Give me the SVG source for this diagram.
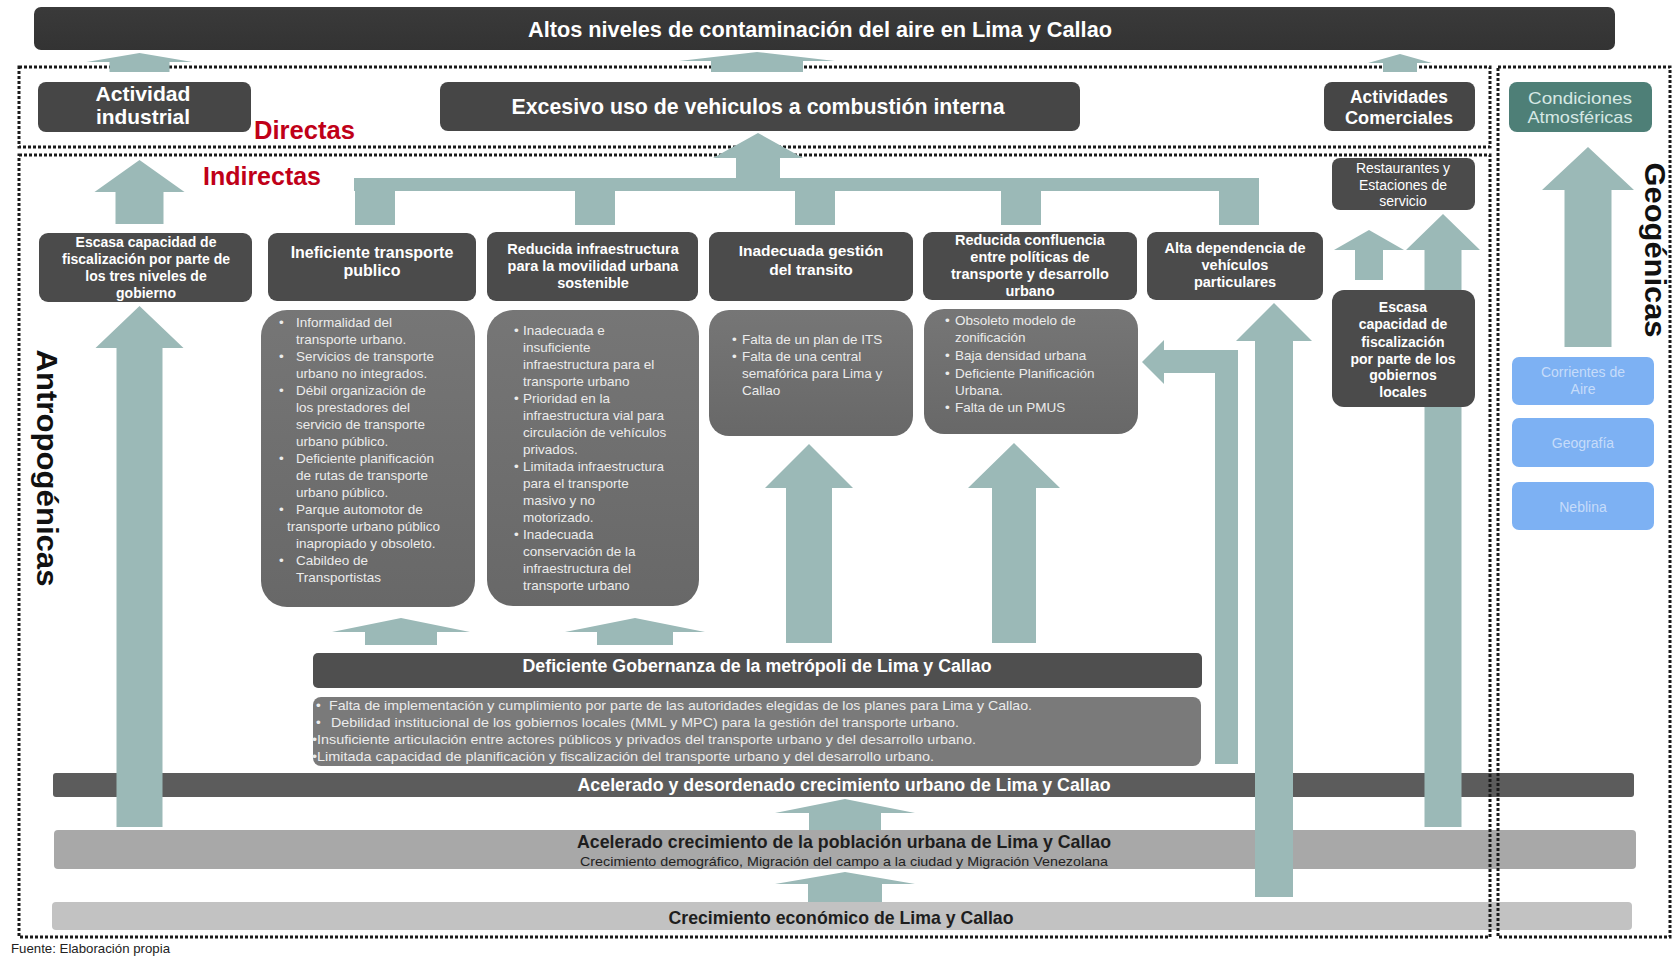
<svg xmlns="http://www.w3.org/2000/svg" width="1673" height="958" viewBox="0 0 1673 958">
<style>
.bx{fill:#464646}
.hd{fill:#4b4b4b}
.dt{fill:#6f6f6f}
.ar{fill:#9bb9b7}
.dot{fill:none;stroke:#1a1a1a;stroke-width:3;stroke-dasharray:3 2}
.w{fill:#ffffff;font-family:"Liberation Sans",Arial,sans-serif;font-weight:bold}
.wn{fill:#ffffff;font-family:"Liberation Sans Narrow","Liberation Sans",Arial,sans-serif;font-weight:bold}
.d{fill:#ececec;font-family:"Liberation Sans",Arial,sans-serif;font-size:13.5px}
.red{fill:#c00018;font-family:"Liberation Sans Narrow","Liberation Sans",Arial,sans-serif;font-weight:bold;font-size:25px}
.big{fill:#111111;font-family:"Liberation Sans",Arial,sans-serif;font-weight:bold;font-size:30px}
.blue{fill:#7db1f3}
.bt{fill:#c6dcfa;font-family:"Liberation Sans",Arial,sans-serif;font-size:14px}
</style>
<defs>
<linearGradient id="gTop" x1="0" y1="0" x2="0" y2="1"><stop offset="0" stop-color="#3a3a3a"/><stop offset="1" stop-color="#333333"/></linearGradient>
<linearGradient id="gDt" x1="0" y1="0" x2="0" y2="1"><stop offset="0" stop-color="#767676"/><stop offset="1" stop-color="#686868"/></linearGradient>
</defs>
<rect width="1673" height="958" fill="#ffffff"/>

<!-- bottom bars -->
<g id="acelerado-desordenado">
<rect x="53" y="773" width="1581" height="24" rx="3" fill="#5c5c5c"/>
<text class="wn" x="844" y="791" font-size="19" text-anchor="middle" textLength="533" lengthAdjust="spacingAndGlyphs">Acelerado y desordenado crecimiento urbano de Lima y Callao</text>
</g>
<g id="poblacion">
<rect x="54" y="830" width="1582" height="39" rx="4" fill="#a8a8a8"/>
<text x="844" y="848" font-size="19" text-anchor="middle" textLength="534" lengthAdjust="spacingAndGlyphs" fill="#1e1e1e" font-family="Liberation Sans Narrow, Liberation Sans, Arial, sans-serif" font-weight="bold">Acelerado crecimiento de la población urbana de Lima y Callao</text>
<text x="844" y="866" font-size="13.5" text-anchor="middle" textLength="528" lengthAdjust="spacingAndGlyphs" fill="#222222" font-family="Liberation Sans Narrow, Liberation Sans, Arial, sans-serif">Crecimiento demográfico, Migración del campo a la ciudad y Migración Venezolana</text>
</g>
<g id="economico">
<rect x="52" y="902" width="1580" height="28" rx="4" fill="#c2c2c2"/>
<text x="841" y="924" font-size="19" text-anchor="middle" textLength="345" lengthAdjust="spacingAndGlyphs" fill="#1e1e1e" font-family="Liberation Sans Narrow, Liberation Sans, Arial, sans-serif" font-weight="bold">Crecimiento económico de Lima y Callao</text>
</g>

<!-- dotted regions -->
<g id="regiones">
<rect class="dot" x="19" y="67" width="1471" height="80"/>
<rect class="dot" x="19" y="155" width="1471" height="782"/>
<rect class="dot" x="1498" y="67" width="172" height="870"/>
</g>

<!-- connectors -->
<g id="connectors">
<polygon class="ar" points="139.5,53 192.5,62 169.5,62 169.5,72 109.5,72 109.5,62 86.5,62"/>
<polygon class="ar" points="757,52 835,61 803,61 803,72 711,72 711,61 679,61"/>
<polygon class="ar" points="1400,54 1432,63 1417,63 1417,72 1383,72 1383,63 1368,63"/>
<polygon class="ar" points="758,133 803,158 780,158 780,180 736,180 736,158 713,158"/>
<rect class="ar" x="354" y="178" width="905" height="13"/>
<rect class="ar" x="355" y="178" width="40" height="47"/>
<rect class="ar" x="575" y="178" width="40" height="47"/>
<rect class="ar" x="795" y="178" width="40" height="47"/>
<rect class="ar" x="1001" y="178" width="40" height="47"/>
<rect class="ar" x="1219" y="178" width="40" height="47"/>
<polygon class="ar" points="139.5,160 184.5,192 163.5,192 163.5,224 115.5,224 115.5,192 94.5,192"/>
<polygon class="ar" points="139.5,306 183.5,348 162.5,348 162.5,827 116.5,827 116.5,348 95.5,348"/>
<polygon class="ar" points="809,444 853,488 832,488 832,643 786,643 786,488 765,488"/>
<polygon class="ar" points="1014,443 1060,488 1036,488 1036,643 992,643 992,488 968,488"/>
<polygon class="ar" points="401,618 470,632 437,632 437,645 365,645 365,632 332,632"/>
<polygon class="ar" points="635,618 705,632 673,632 673,645 597,645 597,632 565,632"/>
<polygon class="ar" points="845,799 915,813 881,813 881,830 809,830 809,813 775,813"/>
<polygon class="ar" points="845,872 915,884 882,884 882,902 808,902 808,884 775,884"/>
<polygon class="ar" points="1274,303 1312,341 1293,341 1293,897 1255,897 1255,341 1236,341"/>
<polygon class="ar" points="1142,362 1164,340 1164,350 1238,350 1238,764 1215,764 1215,373 1164,373 1164,384"/>
<polygon class="ar" points="1369,230 1404,250 1383,250 1383,280 1355,280 1355,250 1334,250"/>
<polygon class="ar" points="1443,214 1480,250 1461.5,250 1461.5,827 1424.5,827 1424.5,250 1406,250"/>
<polygon class="ar" points="1588,147 1634,190 1611.5,190 1611.5,347 1564.5,347 1564.5,190 1542,190"/>
</g>

<!-- top -->
<g id="titulo">
<rect x="34" y="7" width="1581" height="43" rx="7" fill="url(#gTop)"/>
<text class="wn" x="820" y="37" font-size="22" text-anchor="middle" textLength="584" lengthAdjust="spacingAndGlyphs">Altos niveles de contaminación del aire en Lima y Callao</text>
</g>

<g id="directas-label"><text class="red" x="254" y="139" textLength="101" lengthAdjust="spacingAndGlyphs">Directas</text></g>
<g id="indirectas-label"><text class="red" x="203" y="185" textLength="118" lengthAdjust="spacingAndGlyphs">Indirectas</text></g>

<g id="actividad-industrial">
<rect class="bx" x="38" y="82" width="213" height="50" rx="8"/>
<text class="wn" x="143" y="101" font-size="21" text-anchor="middle" textLength="95" lengthAdjust="spacingAndGlyphs">Actividad</text>
<text class="wn" x="143" y="124" font-size="21" text-anchor="middle" textLength="94" lengthAdjust="spacingAndGlyphs">industrial</text>
</g>
<g id="excesivo">
<rect class="bx" x="440" y="82" width="640" height="49" rx="8"/>
<text class="wn" x="758" y="114" font-size="22" text-anchor="middle" textLength="493" lengthAdjust="spacingAndGlyphs">Excesivo uso de vehiculos a combustión interna</text>
</g>
<g id="actividades-comerciales">
<rect class="bx" x="1324" y="82" width="151" height="49" rx="8"/>
<text class="wn" x="1399" y="103" font-size="18" text-anchor="middle" textLength="98" lengthAdjust="spacingAndGlyphs">Actividades</text>
<text class="wn" x="1399" y="124" font-size="18" text-anchor="middle" textLength="108" lengthAdjust="spacingAndGlyphs">Comerciales</text>
</g>
<g id="condiciones">
<rect x="1509" y="82" width="143" height="50" rx="8" fill="#4e7f77"/>
<text x="1580" y="104" font-size="17" text-anchor="middle" textLength="104" lengthAdjust="spacingAndGlyphs" fill="#d6e8e4" font-family="Liberation Sans Narrow, Liberation Sans, Arial, sans-serif">Condiciones</text>
<text x="1580" y="123" font-size="17" text-anchor="middle" textLength="105" lengthAdjust="spacingAndGlyphs" fill="#d6e8e4" font-family="Liberation Sans Narrow, Liberation Sans, Arial, sans-serif">Atmosféricas</text>
</g>

<!-- indirect header nodes -->
<g id="escasa-tres-niveles">
<rect class="hd" x="39" y="233" width="213" height="69" rx="9"/>
<text class="w" font-size="14" text-anchor="middle"><tspan x="146" y="247">Escasa capacidad de</tspan><tspan x="146" y="264">fiscalización por parte de</tspan><tspan x="146" y="281">los tres niveles de</tspan><tspan x="146" y="298">gobierno</tspan></text>
</g>
<g id="ineficiente-transporte">
<rect class="hd" x="268" y="233" width="208" height="68" rx="9"/>
<text class="w" font-size="16" text-anchor="middle"><tspan x="372" y="258">Ineficiente transporte</tspan><tspan x="372" y="276">publico</tspan></text>
</g>
<g id="reducida-infraestructura">
<rect class="hd" x="487" y="232" width="211" height="69" rx="9"/>
<text class="w" font-size="14.5" text-anchor="middle"><tspan x="593" y="254">Reducida infraestructura</tspan><tspan x="593" y="271">para la movilidad urbana</tspan><tspan x="593" y="288">sostenible</tspan></text>
</g>
<g id="inadecuada-gestion">
<rect class="hd" x="709" y="232" width="204" height="69" rx="9"/>
<text class="w" font-size="15.5" text-anchor="middle"><tspan x="811" y="256">Inadecuada gestión</tspan><tspan x="811" y="275">del transito</tspan></text>
</g>
<g id="reducida-confluencia">
<rect class="hd" x="923" y="232" width="214" height="68" rx="9"/>
<text class="w" font-size="14.5" text-anchor="middle"><tspan x="1030" y="245">Reducida confluencia</tspan><tspan x="1030" y="262">entre políticas de</tspan><tspan x="1030" y="279">transporte y  desarrollo</tspan><tspan x="1030" y="296">urbano</tspan></text>
</g>
<g id="alta-dependencia">
<rect class="hd" x="1147" y="232" width="176" height="68" rx="9"/>
<text class="w" font-size="14.5" text-anchor="middle"><tspan x="1235" y="253">Alta dependencia de</tspan><tspan x="1235" y="270">vehículos</tspan><tspan x="1235" y="287">particulares</tspan></text>
</g>
<g id="restaurantes">
<rect class="hd" x="1332" y="158" width="143" height="52" rx="8"/>
<text fill="#ffffff" font-family="Liberation Sans Narrow, Liberation Sans, Arial, sans-serif" font-size="14" text-anchor="middle"><tspan x="1403" y="173">Restaurantes y</tspan><tspan x="1403" y="190">Estaciones de</tspan><tspan x="1403" y="206">servicio</tspan></text>
</g>
<g id="escasa-gobiernos-locales">
<rect class="hd" x="1332" y="290" width="143" height="117" rx="12"/>
<text class="w" font-size="14" text-anchor="middle"><tspan x="1403" y="312">Escasa</tspan><tspan x="1403" y="329">capacidad de</tspan><tspan x="1403" y="347">fiscalización</tspan><tspan x="1403" y="364">por parte de los</tspan><tspan x="1403" y="380">gobiernos</tspan><tspan x="1403" y="397">locales</tspan></text>
</g>

<!-- detail boxes -->
<g id="detalle-transporte">
<rect x="261" y="310" width="214" height="297" rx="26" fill="url(#gDt)"/>
<text class="d">
<tspan x="279" y="327">•</tspan><tspan x="296" y="327">Informalidad del</tspan>
<tspan x="296" y="344">transporte urbano.</tspan>
<tspan x="279" y="361">•</tspan><tspan x="296" y="361">Servicios de transporte</tspan>
<tspan x="296" y="378">urbano no integrados.</tspan>
<tspan x="279" y="395">•</tspan><tspan x="296" y="395">Débil organización de</tspan>
<tspan x="296" y="412">los prestadores del</tspan>
<tspan x="296" y="429">servicio de transporte</tspan>
<tspan x="296" y="446">urbano público.</tspan>
<tspan x="279" y="463">•</tspan><tspan x="296" y="463">Deficiente planificación</tspan>
<tspan x="296" y="480">de rutas de transporte</tspan>
<tspan x="296" y="497">urbano público.</tspan>
<tspan x="279" y="514">•</tspan><tspan x="296" y="514">Parque automotor de</tspan>
<tspan x="287" y="531">transporte urbano público</tspan>
<tspan x="296" y="548">inapropiado y obsoleto.</tspan>
<tspan x="279" y="565">•</tspan><tspan x="296" y="565">Cabildeo de</tspan>
<tspan x="296" y="582">Transportistas</tspan>
</text>
</g>
<g id="detalle-infraestructura">
<rect x="487" y="310" width="212" height="296" rx="26" fill="url(#gDt)"/>
<text class="d">
<tspan x="514" y="335">•</tspan><tspan x="523" y="335">Inadecuada e</tspan>
<tspan x="523" y="352">insuficiente</tspan>
<tspan x="523" y="369">infraestructura para el</tspan>
<tspan x="523" y="386">transporte urbano</tspan>
<tspan x="514" y="403">•</tspan><tspan x="523" y="403">Prioridad  en la</tspan>
<tspan x="523" y="420">infraestructura vial para</tspan>
<tspan x="523" y="437">circulación de vehículos</tspan>
<tspan x="523" y="454">privados.</tspan>
<tspan x="514" y="471">•</tspan><tspan x="523" y="471">Limitada  infraestructura</tspan>
<tspan x="523" y="488">para el transporte</tspan>
<tspan x="523" y="505">masivo y no</tspan>
<tspan x="523" y="522">motorizado.</tspan>
<tspan x="514" y="539">•</tspan><tspan x="523" y="539">Inadecuada</tspan>
<tspan x="523" y="556">conservación de la</tspan>
<tspan x="523" y="573">infraestructura del</tspan>
<tspan x="523" y="590">transporte urbano</tspan>
</text>
</g>
<g id="detalle-transito">
<rect x="709" y="310" width="204" height="126" rx="20" fill="url(#gDt)"/>
<text class="d">
<tspan x="732" y="344">•</tspan><tspan x="742" y="344">Falta de un plan de ITS</tspan>
<tspan x="732" y="361">•</tspan><tspan x="742" y="361">Falta de una central</tspan>
<tspan x="742" y="378">semafórica para Lima y</tspan>
<tspan x="742" y="395">Callao</tspan>
</text>
</g>
<g id="detalle-confluencia">
<rect x="924" y="309" width="214" height="125" rx="20" fill="url(#gDt)"/>
<text class="d">
<tspan x="945" y="325">•</tspan><tspan x="955" y="325">Obsoleto modelo de</tspan>
<tspan x="955" y="342">zonificación</tspan>
<tspan x="945" y="360">•</tspan><tspan x="955" y="360">Baja densidad urbana</tspan>
<tspan x="945" y="378">•</tspan><tspan x="955" y="378">Deficiente Planificación</tspan>
<tspan x="955" y="395">Urbana.</tspan>
<tspan x="945" y="412">•</tspan><tspan x="955" y="412">Falta de un PMUS</tspan>
</text>
</g>

<!-- gobernanza -->
<g id="gobernanza">
<rect x="313" y="653" width="889" height="35" rx="5" fill="#4f4f4f"/>
<text class="wn" x="757" y="672" font-size="18" text-anchor="middle" textLength="469" lengthAdjust="spacingAndGlyphs">Deficiente Gobernanza de la metrópoli de Lima y Callao</text>
</g>
<g id="gobernanza-detalle">
<rect x="313" y="697" width="888" height="69" rx="8" fill="#7a7a7a"/>
<text class="d" font-size="13"><tspan x="316" y="710">•</tspan></text>
<text class="d" x="329" y="710" font-size="13" textLength="703" lengthAdjust="spacingAndGlyphs">Falta de implementación y cumplimiento por parte de las autoridades elegidas de los planes para Lima y Callao.</text>
<text class="d" font-size="13"><tspan x="316" y="727">•</tspan></text>
<text class="d" x="331" y="727" font-size="13" textLength="628" lengthAdjust="spacingAndGlyphs">Debilidad institucional de  los gobiernos locales (MML y MPC) para la gestión del transporte urbano.</text>
<text class="d" x="312" y="744" font-size="13" textLength="664" lengthAdjust="spacingAndGlyphs">•Insuficiente articulación entre actores públicos y privados del transporte urbano y del desarrollo urbano.</text>
<text class="d" x="312" y="761" font-size="13" textLength="622" lengthAdjust="spacingAndGlyphs">•Limitada  capacidad de planificación y fiscalización del transporte urbano y del desarrollo urbano.</text>
</g>

<!-- geogenicas -->
<g id="corrientes">
<rect class="blue" x="1512" y="357" width="142" height="48" rx="7"/>
<text class="bt" text-anchor="middle"><tspan x="1583" y="377">Corrientes de</tspan><tspan x="1583" y="394">Aire</tspan></text>
</g>
<g id="geografia">
<rect class="blue" x="1512" y="418" width="142" height="49" rx="7"/>
<text class="bt" x="1583" y="448" text-anchor="middle">Geografía</text>
</g>
<g id="neblina">
<rect class="blue" x="1512" y="482" width="142" height="48" rx="7"/>
<text class="bt" x="1583" y="512" text-anchor="middle">Neblina</text>
</g>

<g id="etiquetas">
<text class="big" transform="translate(37,468) rotate(90)" text-anchor="middle" textLength="237" lengthAdjust="spacingAndGlyphs">Antropogénicas</text>
<text class="big" transform="translate(1645,250) rotate(90)" text-anchor="middle" textLength="175" lengthAdjust="spacingAndGlyphs">Geogénicas</text>
<text x="11" y="953" font-size="13" fill="#222222" font-family="Liberation Sans, Arial, sans-serif" textLength="159" lengthAdjust="spacingAndGlyphs">Fuente: Elaboración propia</text>
</g>
</svg>
